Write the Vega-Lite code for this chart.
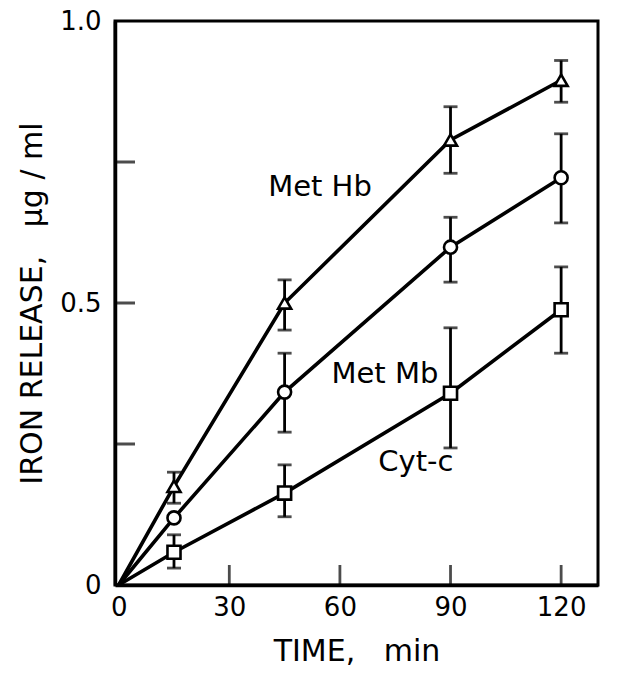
{
  "$schema": "https://vega.github.io/schema/vega-lite/v6.json",
  "width": 483,
  "height": 564,
  "autosize": "none",
  "padding": {"left": 115, "top": 21, "right": 20, "bottom": 96},
  "background": "white",
  "config": {
    "view": {"stroke": "black", "strokeWidth": 3},
    "font": "DejaVu Sans",
    "axis": {
      "domainColor": "black", "domainWidth": 3.5, "ticks": false,
      "grid": false, "labelColor": "black", "titleColor": "black",
      "labelFont": "DejaVu Sans", "titleFont": "DejaVu Sans", "labelFontSize": 25, "titleFontSize": 30,
      "titleFontWeight": "normal"
    }
  },
  "datasets": {
    "pts": [
      {"series": "Met Hb", "t": 0, "v": 0, "lo": null, "hi": null},
      {"series": "Met Hb", "t": 15, "v": 0.175, "lo": 0.145, "hi": 0.2},
      {"series": "Met Hb", "t": 45, "v": 0.5, "lo": 0.452, "hi": 0.541},
      {"series": "Met Hb", "t": 90, "v": 0.789, "lo": 0.73, "hi": 0.848},
      {"series": "Met Hb", "t": 120, "v": 0.895, "lo": 0.856, "hi": 0.93},
      {"series": "Met Mb", "t": 0, "v": 0, "lo": null, "hi": null},
      {"series": "Met Mb", "t": 15, "v": 0.119, "lo": null, "hi": null},
      {"series": "Met Mb", "t": 45, "v": 0.342, "lo": 0.271, "hi": 0.411},
      {"series": "Met Mb", "t": 90, "v": 0.599, "lo": 0.537, "hi": 0.652},
      {"series": "Met Mb", "t": 120, "v": 0.722, "lo": 0.642, "hi": 0.8},
      {"series": "Cyt-c", "t": 0, "v": 0, "lo": null, "hi": null},
      {"series": "Cyt-c", "t": 15, "v": 0.058, "lo": 0.03, "hi": 0.089},
      {"series": "Cyt-c", "t": 45, "v": 0.163, "lo": 0.121, "hi": 0.213},
      {"series": "Cyt-c", "t": 90, "v": 0.34, "lo": 0.243, "hi": 0.456},
      {"series": "Cyt-c", "t": 120, "v": 0.488, "lo": 0.411, "hi": 0.564}
    ],
    "labels": [
      {"t": 54.6, "v": 0.706, "text": "Met Hb"},
      {"t": 72.2, "v": 0.375, "text": "Met Mb"},
      {"t": 80.6, "v": 0.218, "text": "Cyt-c"}
    ],
    "yticks": [{"v": 0.25}, {"v": 0.5}, {"v": 0.75}],
    "xticks": [{"t": 30}, {"t": 60}, {"t": 90}, {"t": 120}]
  },
  "layer": [
    {
      "data": {"name": "pts"},
      "mark": {"type": "line", "color": "black", "strokeWidth": 3.6},
      "encoding": {
        "x": {"field": "t", "type": "quantitative",
          "scale": {"domain": [-1, 130], "nice": false, "zero": false},
          "axis": {"values": [0, 30, 60, 90, 120], "labelPadding": 9, "labelFontSize": 26, "title": "TIME,\u00a0\u00a0 min", "titlePadding": 16}},
        "y": {"field": "v", "type": "quantitative",
          "scale": {"domain": [0, 1], "nice": false},
          "axis": {"values": [0, 0.5, 1], "labelPadding": 14, "labelFontSize": 26,
            "labelExpr": "datum.value == 0 ? '0' : datum.value == 0.5 ? '0.5' : '1.0'",
            "title": "IRON RELEASE,\u00a0\u00a0 μg / ml", "titlePadding": 12}},
        "detail": {"field": "series"},
        "order": {"field": "t"}
      }
    },
    {
      "data": {"name": "yticks"},
      "mark": {"type": "tick", "color": "black", "orient": "horizontal", "size": 40, "thickness": 2.8, "clip": true},
      "encoding": {
        "x": {"datum": -1, "type": "quantitative"},
        "y": {"field": "v", "type": "quantitative"}
      }
    },
    {
      "data": {"name": "xticks"},
      "mark": {"type": "tick", "color": "black", "orient": "vertical", "size": 40, "thickness": 2.8, "clip": true},
      "encoding": {
        "x": {"field": "t", "type": "quantitative"},
        "y": {"datum": 0, "type": "quantitative"}
      }
    },
    {
      "data": {"name": "pts"},
      "transform": [{"filter": "datum.lo != null"}],
      "mark": {"type": "rule", "color": "black", "strokeWidth": 2.8},
      "encoding": {
        "x": {"field": "t", "type": "quantitative"},
        "y": {"field": "lo", "type": "quantitative"},
        "y2": {"field": "hi"}
      }
    },
    {
      "data": {"name": "pts"},
      "transform": [{"filter": "datum.lo != null"}],
      "mark": {"type": "tick", "color": "black", "orient": "horizontal", "size": 14, "thickness": 2.8},
      "encoding": {
        "x": {"field": "t", "type": "quantitative"},
        "y": {"field": "lo", "type": "quantitative"}
      }
    },
    {
      "data": {"name": "pts"},
      "transform": [{"filter": "datum.lo != null"}],
      "mark": {"type": "tick", "color": "black", "orient": "horizontal", "size": 14, "thickness": 2.8},
      "encoding": {
        "x": {"field": "t", "type": "quantitative"},
        "y": {"field": "hi", "type": "quantitative"}
      }
    },
    {
      "data": {"name": "pts"},
      "transform": [{"filter": "datum.t > 0"}],
      "mark": {"type": "point", "filled": true, "fill": "white", "stroke": "black", "strokeWidth": 2.6, "opacity": 1, "size": 170},
      "encoding": {
        "x": {"field": "t", "type": "quantitative"},
        "y": {"field": "v", "type": "quantitative"},
        "shape": {"field": "series", "type": "nominal",
          "scale": {"domain": ["Met Hb", "Met Mb", "Cyt-c"], "range": ["triangle-up", "circle", "square"]},
          "legend": null}
      }
    },
    {
      "data": {"name": "labels"},
      "mark": {"type": "text", "fontSize": 29, "color": "black", "align": "center", "baseline": "middle"},
      "encoding": {
        "x": {"field": "t", "type": "quantitative"},
        "y": {"field": "v", "type": "quantitative"},
        "text": {"field": "text"}
      }
    }
  ]
}
